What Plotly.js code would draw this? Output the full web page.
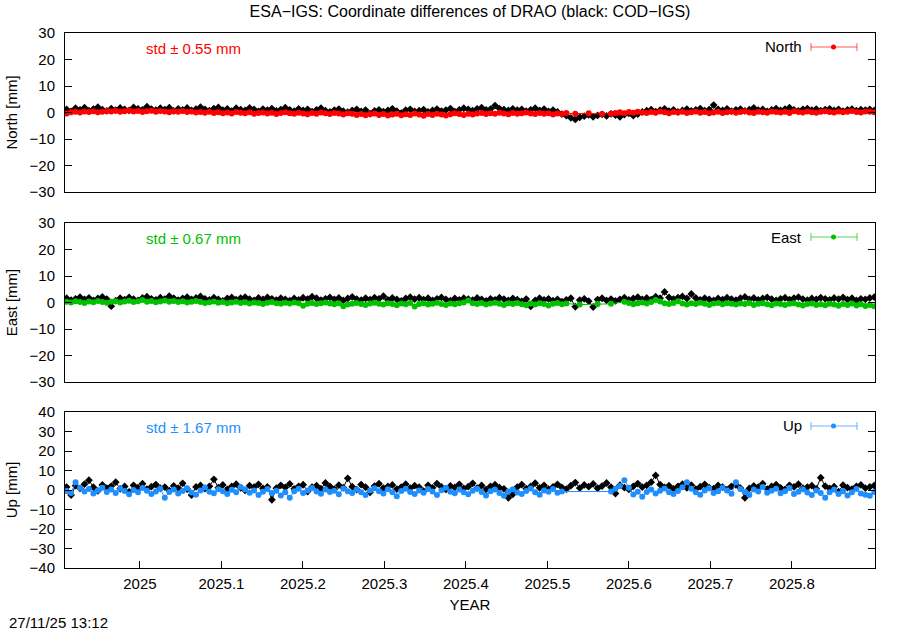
<!DOCTYPE html>
<html>
<head>
<meta charset="utf-8">
<script src="https://cdn.plot.ly/plotly-3.0.1.min.js"></script>
<style>html,body{margin:0;padding:0;background:#fff;}#chart{width:900px;height:630px;}</style>
</head>
<body>
<div id="chart"></div>
<script>
// ---- data (mm), one value every 2 days starting at 2024.910 ----
const startYear = 2024.910;
const stepYears = 2 / 365.25;

const northESA = [
-0.4,0.1,0.3,0.0,0.4,0.2,0.5,0.1,0.3,0.6,
0.4,0.7,0.3,0.5,0.8,0.4,0.6,0.2,0.5,0.7,
0.3,0.6,0.4,0.1,0.5,0.3,0.6,0.2,0.4,0.0,
0.2,-0.1,0.3,-0.2,0.1,-0.3,0.0,-0.4,0.2,-0.1,
-0.3,0.1,-0.5,-0.2,0.0,-0.4,-0.1,-0.6,-0.2,0.1,
-0.3,-0.5,-0.1,-0.4,-0.7,-0.2,-0.5,0.0,-0.3,-0.6,
-0.2,-0.4,-0.8,-0.3,-0.5,-0.9,-0.6,-1.0,-0.7,-0.4,
-0.9,-0.6,-1.1,-0.8,-0.5,-1.0,-0.7,-0.9,-0.4,-0.8,
-1.2,-0.6,-0.9,-0.5,-0.8,-1.1,-0.7,-0.3,-0.6,-0.9,
-0.5,-0.8,-0.4,-0.2,-0.6,-0.3,-0.5,-0.1,-0.4,-0.7,
-0.2,-0.5,-0.3,0.0,-0.4,-0.6,-0.2,-0.5,-0.3,-0.8,
-0.4,-0.6,-0.2,null,-0.5,null,null,-0.3,null,null,
-0.6,null,-0.5,-0.2,0.1,-0.3,0.2,-0.1,0.3,0.0,
-0.2,0.2,-0.1,0.4,0.1,-0.3,0.2,0.0,0.3,-0.2,
0.1,0.4,-0.1,0.2,-0.3,0.0,0.3,-0.2,0.1,0.4,
-0.1,0.2,0.5,0.0,-0.2,0.3,0.1,-0.1,0.4,0.2,
0.0,0.3,-0.2,0.5,0.2,0.0,0.4,0.1,-0.1,0.3,
0.5,0.2,0.0,0.4,0.1,0.3,0.6,0.2,0.0,0.4,
0.3,0.1];

const northCOD = [
1.2,0.4,1.6,1.0,1.8,0.7,1.3,2.0,1.1,0.6,
1.5,0.9,1.7,1.2,0.8,1.9,1.4,1.0,2.2,1.3,
0.9,1.6,1.1,1.8,0.6,1.4,1.0,1.7,0.8,1.3,
2.0,1.2,0.7,1.5,1.9,0.9,1.4,0.5,1.6,1.1,
0.8,1.7,1.2,0.4,1.3,0.9,1.5,0.6,1.1,1.8,
1.0,0.5,1.4,0.8,1.2,0.3,1.0,1.6,0.7,0.2,
0.9,1.3,0.5,0.1,0.8,1.2,0.4,0.9,-0.4,0.6,
1.0,0.3,0.8,1.4,0.5,-0.2,0.9,1.2,0.4,0.7,
1.1,0.2,0.8,1.3,0.5,0.9,1.5,0.3,1.0,1.6,
1.2,0.7,1.4,1.8,1.0,1.3,2.6,1.5,1.1,0.8,
1.4,0.9,1.2,0.5,1.0,1.6,0.8,1.3,0.4,0.9,
0.2,-0.6,-1.2,-2.0,-2.6,-1.8,-1.4,-0.9,-1.6,-1.1,
-0.7,-1.3,-0.5,-1.0,-1.6,-0.8,-0.3,-1.2,-0.6,0.2,
0.7,1.1,0.3,0.9,1.4,0.5,1.0,0.2,0.8,1.3,
0.6,1.0,1.5,0.7,1.1,2.8,1.2,0.8,1.4,0.5,
1.0,1.3,0.6,1.1,1.7,0.9,1.2,0.4,1.0,1.5,
0.8,1.3,1.8,1.0,0.6,1.2,1.5,0.9,1.3,0.7,
1.1,1.4,0.8,1.2,0.5,1.0,1.3,0.7,1.1,0.9,
1.2,0.8];

const eastESA = [
0.3,0.0,0.5,0.2,-0.2,0.4,0.1,0.6,0.2,-0.1,
0.3,0.5,0.0,0.4,0.7,0.2,0.5,0.9,0.3,0.6,
0.1,0.4,0.8,0.3,0.6,0.2,0.5,0.0,0.3,0.6,
0.2,-0.2,0.1,0.4,-0.1,0.2,-0.3,0.0,0.3,-0.2,
0.1,-0.4,0.0,-0.2,-0.6,-0.1,0.2,-0.3,-0.5,-0.1,
-0.4,0.0,-0.3,-1.2,-0.5,-0.2,-0.6,-0.3,0.0,-0.4,
-0.7,-0.3,-1.4,-0.8,-0.5,-0.2,-0.6,-0.9,-0.4,-0.1,
-0.5,-0.8,-0.3,-0.6,-1.0,-0.4,-0.7,-0.2,-1.5,-0.6,
-0.3,-0.8,-0.5,-0.1,-0.6,-0.9,-0.4,-0.7,-0.3,0.0,
0.8,-0.3,-0.6,-0.2,-0.8,-0.4,-0.1,-0.5,-0.9,-0.3,
-0.6,-0.2,-0.7,-1.0,-0.4,-0.8,-0.3,-0.6,-1.1,-0.5,
-0.2,-0.7,-0.4,null,null,-0.8,null,null,null,-0.6,
null,null,-0.5,null,null,0.3,-0.2,-0.7,-0.3,0.0,
-0.4,0.2,0.9,0.4,-0.3,-0.6,-0.2,0.5,-0.4,-0.8,
-0.3,-0.6,-0.1,-0.5,-0.9,-0.4,-0.2,-0.7,-0.3,-0.5,
-0.8,-0.4,-0.6,-0.2,-0.9,-0.5,-0.3,-0.7,-1.0,-0.4,
-0.6,-0.9,-0.5,-0.3,-0.8,-1.1,-0.6,-0.4,-0.9,-0.7,
-1.0,-0.5,-0.8,-1.2,-0.6,-0.9,-0.4,-1.1,-0.7,-1.3,
-0.9,-1.4];

const eastCOD = [
1.6,0.9,1.4,2.0,1.2,1.7,0.8,1.5,2.1,1.3,
-1.4,0.7,1.6,1.1,1.9,1.3,0.8,1.7,2.2,1.4,
1.0,1.8,1.3,2.4,1.6,0.9,1.5,2.0,1.2,1.7,
2.3,1.4,1.0,1.8,1.2,0.6,1.5,1.9,1.1,1.6,
2.0,1.3,0.8,1.7,1.2,1.9,1.4,0.9,1.6,1.2,
0.7,1.5,1.0,1.8,1.3,2.2,1.6,0.9,1.4,1.9,
1.2,1.7,0.8,1.5,2.1,1.3,0.9,1.6,1.1,1.8,
1.4,2.4,1.0,1.7,1.2,0.6,1.5,2.0,1.3,1.8,
1.1,1.6,0.8,1.4,1.9,1.2,0.7,1.5,1.0,1.6,
1.3,0.9,1.7,1.2,0.6,1.4,1.0,1.8,1.3,0.8,
1.5,1.1,0.4,1.3,-1.5,0.8,1.6,1.0,1.4,0.7,
1.2,0.3,1.0,1.6,-1.6,0.9,1.4,0.5,-1.7,1.1,
1.6,0.8,1.3,0.6,1.2,1.8,1.0,1.5,2.0,1.2,
1.7,1.1,2.2,1.6,4.0,1.9,1.3,1.8,2.3,1.5,
3.2,1.7,1.0,1.6,1.2,0.8,1.5,1.1,1.8,1.3,
0.9,1.6,2.1,1.2,1.7,1.0,1.5,1.9,1.3,0.8,
1.4,1.8,1.1,1.6,2.0,1.3,0.9,1.5,1.2,1.8,
1.4,1.0,1.7,1.3,1.9,1.1,1.6,0.8,1.4,1.2,
1.7,2.0];

const upESA = [
-0.5,-1.5,4.0,1.0,-0.8,0.5,-1.8,-0.2,1.2,-1.0,
0.3,-1.6,0.8,-0.5,-2.2,0.0,-1.2,1.0,-0.4,-2.0,
-0.8,0.6,-4.0,-1.0,0.2,-1.8,-0.5,0.9,-1.3,-2.4,
-0.2,1.3,-0.9,-1.7,0.4,-0.6,-2.1,0.1,-1.1,1.6,
0.2,-1.4,-0.3,-2.6,-0.9,0.5,-1.5,-0.4,-2.8,-1.2,
-4.0,-0.7,0.6,-1.6,-0.2,1.0,-0.8,-1.9,0.3,-1.0,
-0.4,-2.2,0.8,-0.6,-1.5,0.2,-1.1,-2.5,-0.3,0.9,
-0.7,-1.8,0.4,-1.2,-3.2,-0.5,0.7,-1.0,-2.0,-0.2,
-1.4,0.5,-0.8,-2.6,-0.1,1.1,-0.9,-1.7,0.3,-1.2,
-2.2,-0.4,0.6,-1.0,-2.8,-0.6,0.2,-1.5,-3.0,-0.8,
0.4,-1.3,-2.0,-0.5,0.8,-1.1,-2.4,-0.2,-0.9,0.5,
-1.4,-0.8,null,null,null,null,null,null,null,null,
null,null,-0.8,0.6,2.0,5.0,1.2,-2.3,-0.9,-3.4,
-1.0,0.3,-1.8,-0.4,0.8,-1.2,-2.0,-0.5,1.4,4.0,
0.6,-1.1,-2.4,-0.3,0.9,-1.5,-0.7,1.2,-0.2,-1.9,
4.0,0.5,-1.0,-2.6,0.2,-0.8,1.5,-1.4,-0.4,0.7,
-1.7,-0.6,1.0,-2.1,-0.9,0.4,-1.3,-2.5,-0.2,-1.6,
-4.0,-1.2,0.3,-2.0,-0.7,-2.8,-1.1,0.5,-1.8,-2.4,
-3.0,-1.0];

const upCOD = [
1.5,-2.6,2.2,0.8,3.0,5.0,1.4,-0.5,2.6,1.0,
2.0,4.0,0.6,1.8,-1.0,2.4,1.2,3.2,0.4,1.7,
2.8,0.9,1.5,-0.3,2.1,1.0,3.4,0.5,-2.6,1.6,
2.3,0.7,1.9,5.5,1.2,2.6,0.3,1.8,3.0,1.1,
-0.2,2.2,1.4,2.9,0.8,1.6,-5.0,0.9,2.4,1.3,
3.1,0.6,1.9,2.7,-0.8,1.5,2.2,0.7,3.6,1.8,
0.4,2.5,1.2,6.0,1.7,0.2,2.8,1.4,-1.2,2.0,
3.2,1.0,1.8,2.6,0.5,1.5,3.0,0.9,2.2,1.4,
-0.6,2.4,1.1,3.3,1.6,0.3,2.1,1.3,2.9,0.8,
1.7,3.4,1.0,2.3,0.2,1.9,2.7,1.2,0.6,-4.0,
-2.2,1.5,2.8,0.7,1.8,3.5,1.1,2.4,0.4,1.6,
2.9,1.3,0.5,2.2,3.8,1.0,2.6,1.7,3.1,0.9,
2.0,3.6,1.4,-1.8,2.5,1.2,0.3,1.9,3.3,1.5,
2.4,4.0,7.5,2.8,1.3,2.2,0.6,1.8,3.0,1.1,
2.5,0.4,1.7,2.9,1.2,0.7,2.3,1.5,0.2,1.9,
2.6,1.0,-4.0,0.8,2.1,1.4,3.2,0.5,1.8,2.7,
1.1,0.3,2.4,1.6,3.0,0.9,1.5,2.2,0.6,6.3,
2.0,0.8,1.7,-0.9,2.5,1.2,0.4,1.9,2.6,1.0,
1.6,2.3];

const panelNames = ["North", "East", "Up"];
const stdTexts = ["std \u00b1 0.55 mm", "std \u00b1 0.67 mm", "std \u00b1 1.67 mm"];
const xTickVals = [2025.0, 2025.1, 2025.2, 2025.3, 2025.4, 2025.5, 2025.6, 2025.7, 2025.8];
const xTickText = ["2025", "2025.1", "2025.2", "2025.3", "2025.4", "2025.5", "2025.6", "2025.7", "2025.8"];
const titleText = "ESA\u2212IGS: Coordinate differences of DRAO (black: COD\u2212IGS)";
const stampText = "27/11/25 13:12";

// ---- build ----
const years = northESA.map((_, i) => startYear + i * stepYears);
const colors = ["#ff0000", "#00c000", "#1e8fff"];
const esaSeries = [northESA, eastESA, upESA];
const codSeries = [northCOD, eastCOD, upCOD];
const FONT = "Liberation Sans, Arial, sans-serif";
const FS = 15;

const L = 65, R = 875, T = 33, B = 568;
const W = R - L, H = B - T;
const px = x => (x - L) / W;
const py = y => (B - y) / H;
const panelPix = [[33, 192], [223, 382], [412, 568]];

const traces = [];
for (let k = 0; k < 3; k++) {
  const xa = k === 0 ? "x" : "x" + (k + 1);
  const ya = k === 0 ? "y" : "y" + (k + 1);
  traces.push({
    x: years, y: codSeries[k], xaxis: xa, yaxis: ya, type: "scatter", mode: "lines+markers",
    connectgaps: true, line: {color: "#000000", width: 1},
    marker: {color: "#000000", size: 6, symbol: "diamond"}, showlegend: false, hoverinfo: "skip"
  });
  traces.push({
    x: years, y: esaSeries[k], xaxis: xa, yaxis: ya, type: "scatter", mode: "lines+markers",
    connectgaps: true, line: {color: colors[k], width: 1},
    marker: {color: colors[k], size: 6, symbol: "circle"}, showlegend: false, hoverinfo: "skip"
  });
}

const xRange = [2024.908, 2025.902];
const yRanges = [[-30, 30], [-30, 30], [-40, 40]];
const yDtick = [10, 10, 10];

const layout = {
  width: 900, height: 630,
  margin: {l: L, r: 900 - R, t: T, b: 630 - B},
  paper_bgcolor: "#ffffff", plot_bgcolor: "#ffffff",
  font: {family: FONT, size: FS, color: "#000000"},
  showlegend: false,
  title: {text: titleText, font: {family: FONT, size: 16, color: "#000"},
          xref: "paper", x: 0.5, xanchor: "center", yref: "container", y: 1 - 11 / 630, yanchor: "middle"},
  annotations: [],
  shapes: []
};

for (let k = 0; k < 3; k++) {
  const sfx = k === 0 ? "" : String(k + 1);
  const [ptop, pbot] = panelPix[k];
  const domain = [py(pbot), py(ptop)];
  layout["xaxis" + sfx] = {
    anchor: "y" + sfx, domain: [0, 1], range: xRange, showgrid: false, zeroline: false,
    showline: true, linecolor: "#000", linewidth: 1, mirror: true,
    ticks: k === 2 ? "inside" : "", ticklen: 7, tickcolor: "#000",
    tickvals: xTickVals, ticktext: xTickText, showticklabels: k === 2,
    tickfont: {family: FONT, size: FS, color: "#000"}, ticklabelstandoff: 2,
    title: k === 2 ? {text: "YEAR", font: {family: FONT, size: FS, color: "#000"}, standoff: 8} : {text: ""}
  };
  layout["yaxis" + sfx] = {
    anchor: "x" + sfx, domain: domain, range: yRanges[k], dtick: yDtick[k], tick0: 0,
    showgrid: false, zeroline: false, showline: true, linecolor: "#000", linewidth: 1, mirror: "ticks",
    ticks: "inside", ticklen: 7, tickcolor: "#000",
    tickfont: {family: FONT, size: FS, color: "#000"}, ticklabelstandoff: 6,
    title: {text: panelNames[k] + " [mm]", font: {family: FONT, size: FS, color: "#000"}, standoff: 8}
  };
  // std text
  layout.annotations.push({
    xref: "paper", yref: "paper", x: px(144), y: py(ptop + 15), xanchor: "left", yanchor: "middle",
    text: stdTexts[k], showarrow: false, font: {family: FONT, size: FS, color: colors[k]}
  });
  // legend label
  layout.annotations.push({
    xref: "paper", yref: "paper", x: px(804), y: py(ptop + 14), xanchor: "right", yanchor: "middle",
    text: panelNames[k], showarrow: false, font: {family: FONT, size: FS, color: "#000"}
  });
  // legend sample: error-bar style
  const ly = py(ptop + 14);
  const capH = 4 / H;
  layout.shapes.push({type: "line", xref: "paper", yref: "paper", x0: px(811), x1: px(857), y0: ly, y1: ly,
    line: {color: colors[k], width: 1}, opacity: 0.65});
  layout.shapes.push({type: "line", xref: "paper", yref: "paper", x0: px(811), x1: px(811), y0: ly - capH, y1: ly + capH,
    line: {color: colors[k], width: 1}, opacity: 0.65});
  layout.shapes.push({type: "line", xref: "paper", yref: "paper", x0: px(857), x1: px(857), y0: ly - capH, y1: ly + capH,
    line: {color: colors[k], width: 1}, opacity: 0.65});
  layout.shapes.push({type: "circle", xref: "paper", yref: "paper", x0: px(831), x1: px(836), y0: ly - 2.5 / H, y1: ly + 2.5 / H,
    fillcolor: colors[k], line: {color: colors[k], width: 0}});
}

layout.annotations.push({
  xref: "paper", yref: "paper", x: px(7), y: py(622), xanchor: "left", yanchor: "middle",
  text: stampText, showarrow: false, font: {family: FONT, size: FS, color: "#000"}
});

Plotly.newPlot("chart", traces, layout, {staticPlot: true, displayModeBar: false});
</script>
</body>
</html>
